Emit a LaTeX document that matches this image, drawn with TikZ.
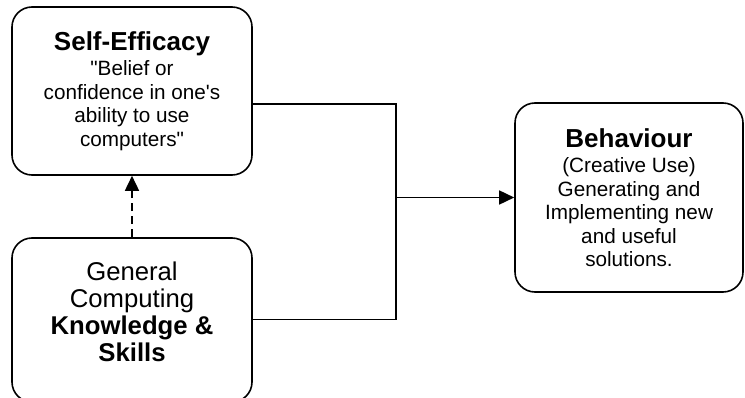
\documentclass[tikz,border=0pt]{standalone}
\usepackage{fontspec}
\setmainfont{Liberation Sans}[Ligatures=TeXOff]
\usetikzlibrary{arrows.meta}
\begin{document}
\begin{tikzpicture}[x=1pt,y=-1pt,
  box/.style={draw=black, line width=1.6pt, rounded corners=20pt, inner sep=0pt, align=center,
    font=\fontsize{20.7}{23.5}\selectfont},
  conn/.style={draw=black, line width=1.6pt},
  tip/.style={-{Triangle[length=15pt,width=14pt]}}
]
\useasboundingbox (0,0) rectangle (745,398);
\node[box, minimum width=240pt, minimum height=168pt] (top) at (132,91)
  {{\fontsize{26}{30}\selectfont\bfseries Self-Efficacy}\\[2pt]
   "Belief or\\ confidence in one's\\ ability to use\\ computers"};
\node[box, minimum width=240pt, minimum height=164pt,
  font=\fontsize{25.7}{27}\selectfont] (bot) at (132,320)
  {General\\ Computing\\ \textbf{Knowledge \&}\\ \textbf{Skills}\\[-11pt]~};
\node[box, minimum width=228pt, minimum height=189pt] (beh) at (629,197.5)
  {{\fontsize{26}{30}\selectfont\bfseries Behaviour}\\[2pt]
   (Creative Use)\\ Generating and\\ Implementing new\\ and useful\\ solutions.};
\coordinate (jt) at (396,104);
\coordinate (jb) at (396,319.5);
\coordinate (jm) at (396,197.5);
\draw[conn] (top.east |- jt) -- (jt) -- (jb) -- (bot.east |- jb);
\draw[conn, tip] (jm) -- (beh.west);
\draw[conn, tip, dash pattern=on 8pt off 5pt] (bot.north) -- (top.south);
\end{tikzpicture}
\end{document}
